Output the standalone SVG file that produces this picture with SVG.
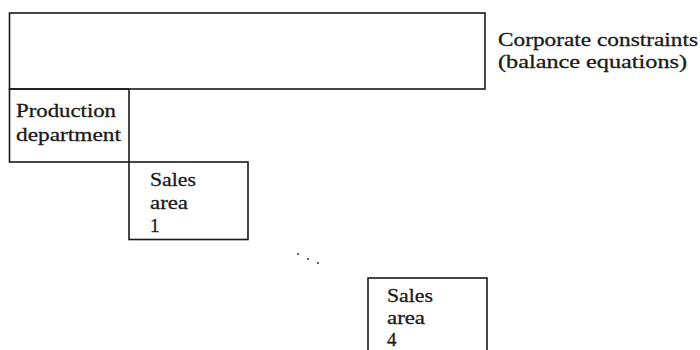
<svg xmlns="http://www.w3.org/2000/svg" width="700" height="350" viewBox="0 0 700 350">
  <style>
    .box { fill: none; stroke: #1a1a1a; stroke-width: 1.6; }
    .lbl { font-family: "Liberation Serif", "Times New Roman", serif; font-size: 19px; fill: #1a1a1a; stroke: #1a1a1a; stroke-width: 0.3; }
  </style>
  <rect width="700" height="350" fill="#ffffff"/>

  <!-- corporate constraints block -->
  <g id="corporate">
    <rect class="box" x="9.5" y="13" width="475.5" height="76"/>
    <text class="lbl" x="498" y="45.5" textLength="200" lengthAdjust="spacingAndGlyphs">Corporate constraints</text>
    <text class="lbl" x="498" y="68" textLength="189" lengthAdjust="spacingAndGlyphs">(balance equations)</text>
  </g>

  <!-- production department block -->
  <g id="production">
    <rect class="box" x="9.5" y="89" width="119.5" height="73"/>
    <text class="lbl" x="16" y="117" textLength="100" lengthAdjust="spacingAndGlyphs">Production</text>
    <text class="lbl" x="16" y="140.5" textLength="105" lengthAdjust="spacingAndGlyphs">department</text>
  </g>

  <!-- sales area 1 block -->
  <g id="sales1">
    <rect class="box" x="129" y="162" width="119" height="77.5"/>
    <text class="lbl" x="150" y="186" textLength="46" lengthAdjust="spacingAndGlyphs">Sales</text>
    <text class="lbl" x="150" y="209" textLength="38" lengthAdjust="spacingAndGlyphs">area</text>
    <text class="lbl" x="150" y="232">1</text>
  </g>

  <!-- ellipsis between blocks -->
  <g id="ellipsis" fill="#1a1a1a">
    <circle cx="298" cy="254" r="0.9"/>
    <circle cx="308" cy="259" r="0.9"/>
    <circle cx="318" cy="263" r="0.9"/>
  </g>

  <!-- sales area 4 block -->
  <g id="sales4">
    <rect class="box" x="368" y="278" width="119" height="80"/>
    <text class="lbl" x="387" y="301.5" textLength="46" lengthAdjust="spacingAndGlyphs">Sales</text>
    <text class="lbl" x="387" y="324" textLength="38" lengthAdjust="spacingAndGlyphs">area</text>
    <text class="lbl" x="387" y="346">4</text>
  </g>

  <g id="connectors"/>
</svg>
